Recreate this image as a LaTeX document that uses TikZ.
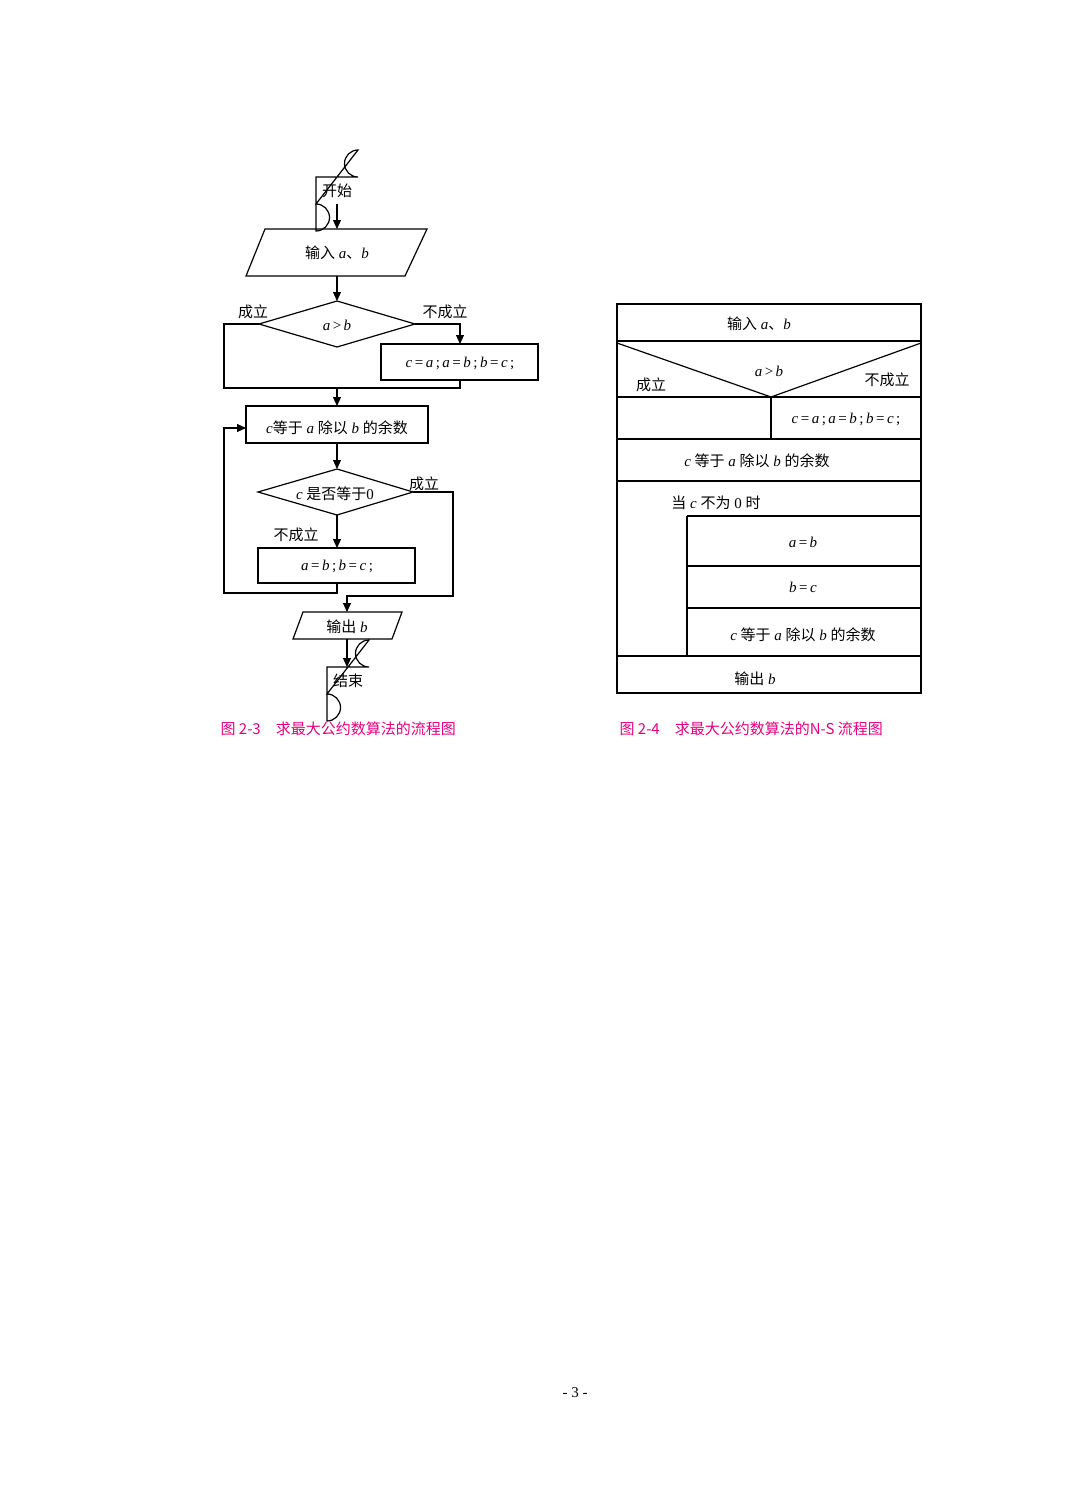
\documentclass[tikz,border=0pt]{standalone}
\usepackage{fontspec}
\setmainfont{Liberation Serif}
\newfontfamily\cjk{Noto Sans CJK SC}
\newfontfamily\capfont{Noto Sans CJK SC}
\usetikzlibrary{shapes.geometric,shapes.misc,arrows.meta}
\definecolor{capmag}{RGB}{228,0,127}
\newcommand{\vi}[1]{\textit{#1}}

\tikzset{every picture/.style={line width=1.2pt}}

\begin{document}
\begin{tikzpicture}[x=1pt,y=1pt,yscale=-1,xscale=1,
	font=\fontsize{15}{17}\selectfont,
	flow/.style={-{Triangle[length=9pt,width=8pt]}},
	txt/.style={inner sep=0pt}]
		\useasboundingbox (0,0) rectangle (1083,1509);

		% Flow chart, left
		%Shape: Terminal [id:start]
		\draw (316,177) -- (358,177) arc (-90:90:-13.5) -- (316,204) arc (90:270:-13.5) -- cycle ;
		\node (start) [txt] at (337,191) {\cjk 开始};
		%Shape: Parallelogram [id:input]
		\draw (265,229) -- (427,229) -- (405,276) -- (246,276) -- cycle ;
		\node (input) [txt] at (337,253) {{\cjk 输入} \vi{a}{\cjk 、}\vi{b}};
		%Shape: Diamond [id:cmp]
		\draw (259,324) -- (337,301) -- (415,324) -- (337,347) -- cycle ;
		\node (cmp) [txt] at (337,325) {\vi{a}\,>\,\vi{b}};
		%Shape: Rectangle [id:swap]
		\draw (381,344) rectangle (538,380) ;
		\node (swap) [txt] at (460,363) {\vi{c}\,=\,\vi{a}\,;\,\vi{a}\,=\,\vi{b}\,;\,\vi{b}\,=\,\vi{c}\,;};
		%Shape: Rectangle [id:rem]
		\draw (246,406) rectangle (428,443) ;
		\node (rem) [txt] at (337,428) {\vi{c}{\cjk 等于} \vi{a} {\cjk 除以} \vi{b} {\cjk 的余数}};
		%Shape: Diamond [id:zero]
		\draw (258,492) -- (337,469) -- (413,492) -- (337,515) -- cycle ;
		\node (zero) [txt] at (335,494) {\vi{c} {\cjk 是否等于}0};
		%Shape: Rectangle [id:shift]
		\draw (258,548) rectangle (415,583) ;
		\node (shift) [txt] at (337,566) {\vi{a}\,=\,\vi{b}\,;\,\vi{b}\,=\,\vi{c}\,;};
		%Shape: Parallelogram [id:output]
		\draw (303,612) -- (402,612) -- (392,639) -- (293,639) -- cycle ;
		\node (output) [txt] at (347,627) {{\cjk 输出} \vi{b}};
		%Shape: Terminal [id:stop]
		\draw (327,667) -- (369,667) arc (-90:90:-13.5) -- (327,694) arc (90:270:-13.5) -- cycle ;
		\node (stop) [txt] at (348,681) {\cjk 结束};

		%Straight Lines
		\draw [flow] (337,204) -- (337,229) ;
		\draw [flow] (337,276) -- (337,301) ;
		\draw [flow] (415,324) -- (460,324) -- (460,344) ;
		\draw (259,324) -- (224,324) -- (224,388) -- (460,388) -- (460,380) ;
		\draw [flow] (337,388) -- (337,406) ;
		\draw [flow] (337,443) -- (337,469) ;
		\draw [flow] (337,515) -- (337,548) ;
		\draw [flow] (337,583) -- (337,593) -- (224,593) -- (224,428) -- (246,428) ;
		\draw [flow] (413,492) -- (453,492) -- (453,596) -- (347,596) -- (347,612) ;
		\draw [flow] (347,639) -- (347,667) ;

		% Text Node
		\node (yes1) [txt] at (253,312) {\cjk 成立};
		\node (no1) [txt] at (445,312) {\cjk 不成立};
		\node (yes2) [txt] at (424,484) {\cjk 成立};
		\node (no2) [txt] at (296,535) {\cjk 不成立};

		% N-S chart, right
		\draw (617,304) rectangle (921,693) ;
		\draw (617,341) -- (921,341) ;
		\draw (617,343) -- (771,397) -- (921,343) ;
		\draw (617,397) -- (921,397) ;
		\draw (771,397) -- (771,439) ;
		\draw (617,439) -- (921,439) ;
		\draw (617,481) -- (921,481) ;
		\draw (687,516) -- (921,516) ;
		\draw (687,516) -- (687,656) ;
		\draw (687,566) -- (921,566) ;
		\draw (687,608) -- (921,608) ;
		\draw (617,656) -- (921,656) ;

		% Text Node
		\node (nsin) [txt] at (759,324) {{\cjk 输入} \vi{a}{\cjk 、}\vi{b}};
		\node (nscmp) [txt] at (769,371) {\vi{a}\,>\,\vi{b}};
		\node (nsyes) [txt] at (651,385) {\cjk 成立};
		\node (nsno) [txt] at (887,380) {\cjk 不成立};
		\node (nsswap) [txt] at (846,419) {\vi{c}\,=\,\vi{a}\,;\,\vi{a}\,=\,\vi{b}\,;\,\vi{b}\,=\,\vi{c}\,;};
		\node (nsrem) [txt] at (757,461) {\vi{c} {\cjk 等于} \vi{a} {\cjk 除以} \vi{b} {\cjk 的余数}};
		\node (nswhile) [txt] at (716,503) {{\cjk 当} \vi{c} {\cjk 不为} 0 {\cjk 时}};
		\node (nsab) [txt] at (803,542) {\vi{a}\,=\,\vi{b}};
		\node (nsbc) [txt] at (803,587) {\vi{b}\,=\,\vi{c}};
		\node (nsrem2) [txt] at (803,635) {\vi{c} {\cjk 等于} \vi{a} {\cjk 除以} \vi{b} {\cjk 的余数}};
		\node (nsout) [txt] at (755,679) {{\cjk 输出} \vi{b}};

		% Captions
		\node (cap3) [txt,anchor=west,text=capmag] at (220,729) {\capfont 图 2-3\quad 求最大公约数算法的流程图};
		\node (cap4) [txt,anchor=west,text=capmag] at (619,729) {\capfont 图 2-4\quad 求最大公约数算法的N-S 流程图};
		\node (page) [txt] at (575,1393) {- 3 -};
	\end{tikzpicture}
\end{document}
